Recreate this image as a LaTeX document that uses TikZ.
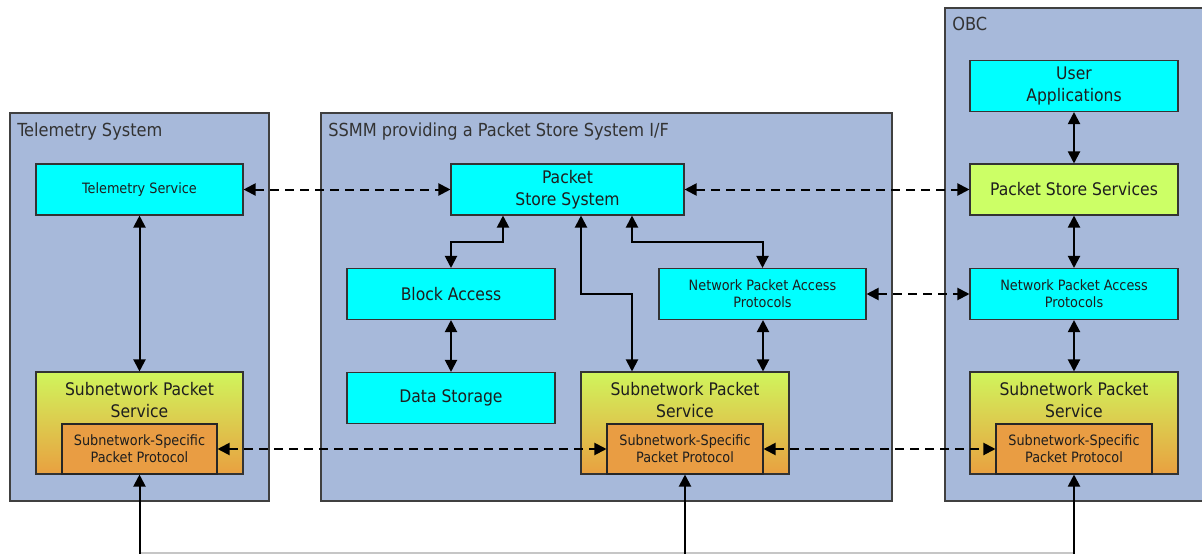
\documentclass[tikz,border=0pt]{standalone}
\usepackage{fontspec}
\setmainfont{DejaVu Sans Condensed}
\usetikzlibrary{arrows.meta}
\definecolor{contc}{RGB}{167,185,218}
\definecolor{cyanb}{RGB}{0,255,255}
\definecolor{limec}{RGB}{204,255,102}
\definecolor{spstop}{RGB}{208,245,92}
\definecolor{spsbot}{RGB}{233,160,64}
\definecolor{orngc}{RGB}{233,157,67}
\definecolor{txtc}{RGB}{30,30,30}
\begin{document}
\begin{tikzpicture}[x=0.75pt,y=-0.75pt,
  cont/.style={draw=black!75, fill=contc, line width=0.8pt},
  ttl/.style={anchor=base west, text=black!80, font=\fontsize{13.5}{16}\selectfont, inner sep=0pt},
  big/.style={font=\fontsize{13}{16.5}\selectfont},
  small/.style={font=\fontsize{10.7}{12.75}\selectfont},
  box/.style={draw=black!80, line width=0.8pt, fill=cyanb, minimum width=155.25pt, minimum height=38.25pt, inner sep=0pt, align=center, text=txtc},
  spsbox/.style={draw=black!80, line width=0.8pt, top color=spstop, bottom color=spsbot, minimum width=155.25pt, minimum height=76.5pt, inner sep=0pt},
  protbox/.style={draw=black!85, line width=0.8pt, fill=orngc, minimum width=116.25pt, minimum height=37.5pt, inner sep=0pt, align=center, text=txtc, small},
  spstxt/.style={align=center, text=txtc, big, inner sep=0pt},
  arr/.style={line width=1.5pt, {Triangle[length=9pt,width=9pt]}-{Triangle[length=9pt,width=9pt]}},
  dsh/.style={arr, dash pattern=on 6.75pt off 4.5pt},
  uparr/.style={line width=1.5pt, -{Triangle[length=9pt,width=9pt]}}
]
\clip (0,0) rectangle (1202,553);
\fill[white] (0,0) rectangle (1202,553);
% containers
\draw[cont] (10,113) rectangle (269,501);
\draw[cont] (321,113) rectangle (892,501);
\draw[cont] (945,8) rectangle (1215,501);
\node[ttl] (tT) at (17,136) {Telemetry System};
\node[ttl] (tS) at (328,136) {SSMM providing a Packet Store System I/F};
\node[ttl] (tO) at (952,31) {OBC};
% telemetry system
\node[box, small] (tsvc) at (139.5,189.5) {Telemetry Service};
\node[spsbox] (spsA) at (139.5,423) {};
\node[spstxt] (spsAt) at (139.5,400) {Subnetwork Packet\\Service};
\node[protbox] (iA) at (139.5,449) {Subnetwork-Specific\\Packet Protocol};
% SSMM
\node[box, big, minimum width=174.75pt] (pss) at (567.5,189.5) {Packet\\Store System};
\node[box, big, minimum width=156pt] (blk) at (451,294) {Block Access};
\node[box, big, minimum width=156pt] (dat) at (451,398) {Data Storage};
\node[box, small] (npaM) at (762.5,294) {Network Packet Access\\Protocols};
\node[spsbox, minimum width=156pt] (spsM) at (685,423) {};
\node[spstxt] (spsMt) at (685,400) {Subnetwork Packet\\Service};
\node[protbox, minimum width=117pt] (iM) at (685,449) {Subnetwork-Specific\\Packet Protocol};
% OBC
\node[box, big, minimum width=156pt] (usr) at (1074,86) {User\\Applications};
\node[box, big, minimum width=156pt, fill=limec] (pssv) at (1074,189.5) {Packet Store Services};
\node[box, small, minimum width=156pt] (npaR) at (1074,294) {Network Packet Access\\Protocols};
\node[spsbox, minimum width=156pt] (spsR) at (1074,423) {};
\node[spstxt] (spsRt) at (1074,400) {Subnetwork Packet\\Service};
\node[protbox, minimum width=117pt] (iR) at (1074,449) {Subnetwork-Specific\\Packet Protocol};
% helper coordinates
\coordinate (xB) at (503,0);
\coordinate (xS) at (581,0);
\coordinate (xN) at (632,0);
\coordinate (xM) at (763,0);
\coordinate (yA) at (0,242);
\coordinate (yB) at (0,294);
% solid vertical arrows
\draw[arr] (tsvc.south) -- (spsA.north);
\draw[arr] (blk.south) -- (dat.north);
\draw[arr] (xM |- npaM.south) -- (xM |- spsM.north);
\draw[arr] (usr.south) -- (pssv.north);
\draw[arr] (pssv.south) -- (npaR.north);
\draw[arr] (npaR.south) -- (spsR.north);
% elbow arrows
\draw[arr] (xB |- pss.south) -- (xB |- yA) -| (blk.north);
\draw[arr] (xS |- pss.south) -- (xS |- yB) -| (xN |- spsM.north);
\draw[arr] (xN |- pss.south) -- (xN |- yA) -| (npaM.north);
% dashed arrows
\draw[dsh] (tsvc.east) -- (pss.west);
\draw[dsh] (pss.east) -- (pssv.west);
\draw[dsh] (npaM.east) -- (npaR.west);
\draw[dsh] (iA.east) -- (iM.west);
\draw[dsh] (iM.east) -- (iR.west);
% bottom links
\coordinate (bA) at (139.5,560);
\coordinate (bM) at (685,560);
\coordinate (bR) at (1074,560);
\draw[gray!45, line width=1.5pt] (bA |- 0,552.5) -- (bR |- 0,552.5);
\draw[uparr] (bA) -- (iA.south);
\draw[uparr] (bM) -- (iM.south);
\draw[uparr] (bR) -- (iR.south);
\end{tikzpicture}
\end{document}
